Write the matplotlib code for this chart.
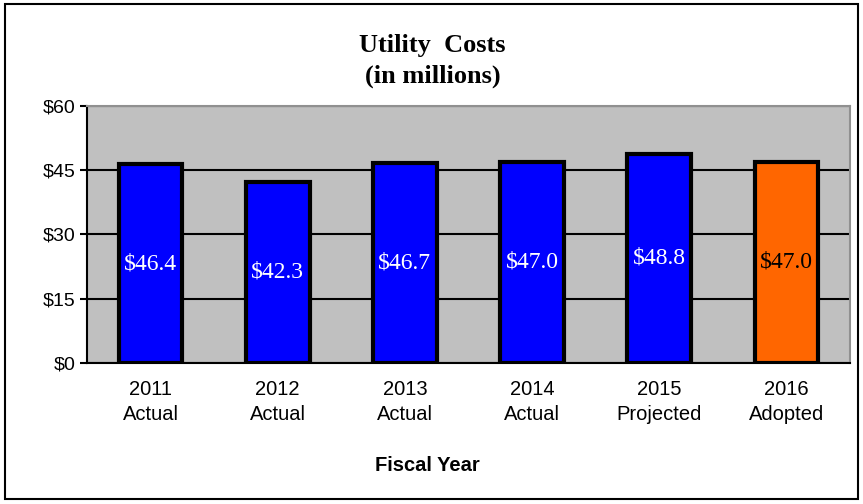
import matplotlib
matplotlib.use("Agg")
import matplotlib.pyplot as plt
from matplotlib.patches import Rectangle

years = ["2011", "2012", "2013", "2014", "2015", "2016"]
kinds = ["Actual", "Actual", "Actual", "Actual", "Projected", "Adopted"]
costs = [46.4, 42.3, 46.7, 47.0, 48.8, 47.0]
bar_colors = ["#0000FF"] * 5 + ["#FF6600"]
label_colors = ["white"] * 5 + ["black"]
yticks = [0, 15, 30, 45, 60]

fig = plt.figure(figsize=(8.63, 5.04), dpi=100)
ax = fig.add_axes([0.1008, 0.2798, 0.884, 0.5099])
ax.set_facecolor("#C0C0C0")

x = list(range(len(years)))
ax.bar(x, costs, width=0.5, color=bar_colors, edgecolor="black",
       linewidth=3, zorder=3)
for xi, v, c in zip(x, costs, label_colors):
    ax.text(xi, v / 2, f"${v:.1f}", ha="center", va="center", color=c,
            fontsize=17, family="Liberation Serif", zorder=4)

ax.set_xlim(-0.5, len(years) - 0.5)
ax.set_ylim(0, 60)
ax.set_yticks(yticks)
ax.set_yticklabels([f"${t}" for t in yticks], family="Liberation Sans", fontsize=14)
ax.yaxis.grid(True, color="black", linewidth=1.5, zorder=1)
ax.set_axisbelow(True)
ax.tick_params(axis="y", length=5, width=1.5, direction="out", pad=3)
ax.set_xticks(x)
ax.set_xticklabels([f"{y}\n{k}" for y, k in zip(years, kinds)],
                   family="Liberation Sans", fontsize=14.5, linespacing=1.4)
ax.tick_params(axis="x", length=0, pad=12)

for s in ["top", "right"]:
    ax.spines[s].set_color("#909090")
    ax.spines[s].set_linewidth(1.5)
for s in ["left", "bottom"]:
    ax.spines[s].set_color("black")
    ax.spines[s].set_linewidth(1.5)

fig.text(0.501, 0.9107, "Utility  Costs", ha="center", va="center",
         family="Liberation Serif", fontweight="bold", fontsize=19)
fig.text(0.501, 0.849, "(in millions)", ha="center", va="center",
         family="Liberation Serif", fontweight="bold", fontsize=19)
fig.text(0.495, 0.077, "Fiscal Year", ha="center", va="center",
         family="Liberation Sans", fontweight="bold", fontsize=14.5)

fig.patches.append(Rectangle((0.006, 0.01), 0.988, 0.982, transform=fig.transFigure,
                             fill=False, edgecolor="black", linewidth=1.5))

fig.savefig("out.png", dpi=100)
